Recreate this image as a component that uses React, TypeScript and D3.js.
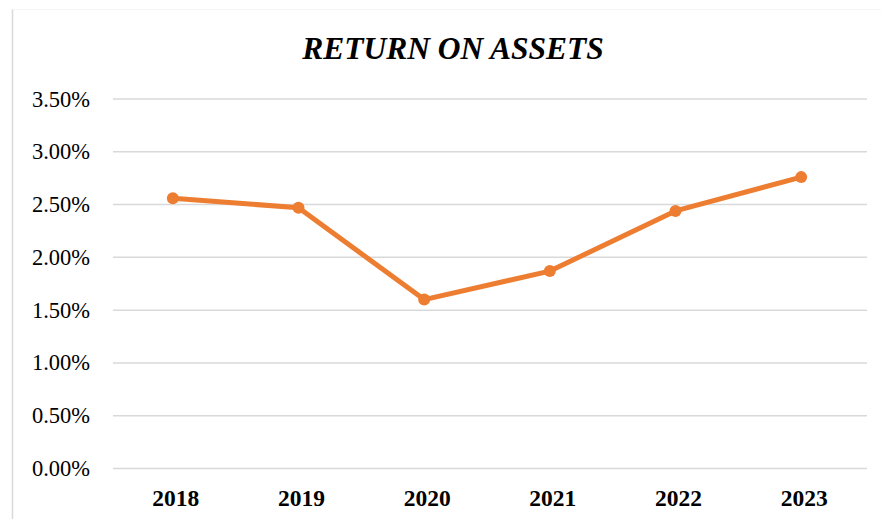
import React from "react";
import * as d3 from "d3";

const years = ["2018", "2019", "2020", "2021", "2022", "2023"];
const roa = [2.56, 2.47, 1.6, 1.87, 2.44, 2.76];
const yTicks = [0, 0.5, 1, 1.5, 2, 2.5, 3, 3.5];
const title = "RETURN ON ASSETS";

const W = 881;
const H = 519;
const left = 113;
const right = 867;
const top = 99;
const bottom = 468.5;

export default function App() {
  const x = d3.scaleBand<string>().domain(years).range([left, right]);
  const y = d3.scaleLinear().domain([0, 3.5]).range([bottom, top]);
  const cx = (d: string) => (x(d) ?? 0) + x.bandwidth() / 2;
  const pts: [number, number][] = years.map((d, i) => [cx(d) - 3, y(roa[i])]);
  const line = d3.line<[number, number]>()(pts) ?? "";
  const serif = "'Liberation Serif', 'Times New Roman', serif";

  return (
    <svg
      width={W}
      height={H}
      style={{ position: "absolute", left: 0, top: 0, background: "#fff" }}
    >
      <rect x={0} y={0} width={W} height={H} fill="#fff" />
      <line x1={12.5} x2={12.5} y1={9} y2={H} stroke="#d9d9d9" strokeWidth={1.5} />
      <line x1={12.5} x2={W} y1={9.5} y2={9.5} stroke="#f6f6f6" strokeWidth={1} />
      <text
        x={453}
        y={59}
        textAnchor="middle"
        fontFamily={serif}
        fontWeight="bold"
        fontStyle="italic"
        fontSize={31.5}
        fill="#000"
      >
        {title}
      </text>
      {yTicks.map((t) => (
        <g key={t}>
          <line
            x1={left}
            x2={right}
            y1={y(t)}
            y2={y(t)}
            stroke="#d9d9d9"
            strokeWidth={1.5}
          />
          <text
            x={90}
            y={y(t) + 7.5}
            textAnchor="end"
            fontFamily={serif}
            fontSize={22.5}
            fill="#000"
          >
            {t.toFixed(2) + "%"}
          </text>
        </g>
      ))}
      {years.map((d) => (
        <text
          key={d}
          x={cx(d)}
          y={506}
          textAnchor="middle"
          fontFamily={serif}
          fontWeight="bold"
          fontSize={23.5}
          fill="#000"
        >
          {d}
        </text>
      ))}
      <path
        d={line}
        fill="none"
        stroke="#ED7D31"
        strokeWidth={5}
        strokeLinejoin="round"
        strokeLinecap="round"
      />
      {pts.map((p, i) => (
        <circle key={years[i]} cx={p[0]} cy={p[1]} r={6} fill="#ED7D31" />
      ))}
    </svg>
  );
}
